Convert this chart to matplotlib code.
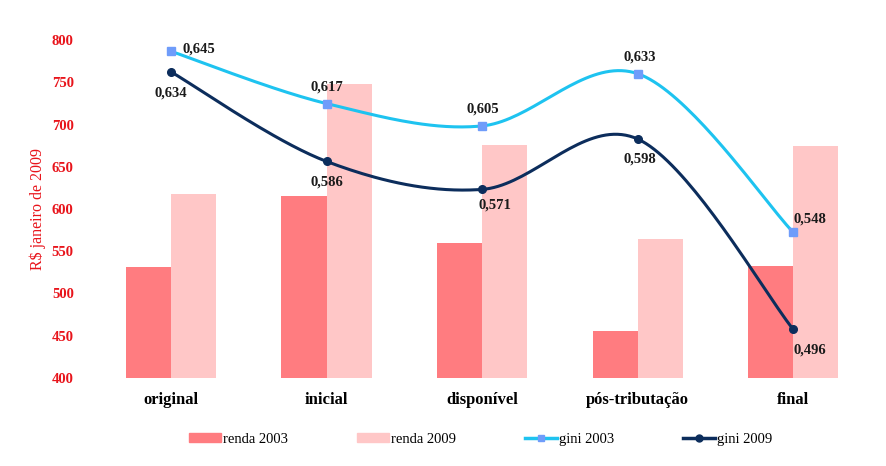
import numpy as np
import matplotlib
matplotlib.use("Agg")
import matplotlib.pyplot as plt
from matplotlib.lines import Line2D
from matplotlib.patches import Patch

categories = ["original", "inicial", "disponível", "pós-tributação", "final"]
renda_2003 = [531, 615, 560, 456, 532]
renda_2009 = [618, 748, 676, 565, 675]
gini_2003 = [0.645, 0.617, 0.605, 0.633, 0.548]
gini_2009 = [0.634, 0.586, 0.571, 0.598, 0.496]

plt.rcParams["font.family"] = ["Liberation Serif", "DejaVu Serif"]

RED = "#E8141B"
C_R03 = "#FF7C80"
C_R09 = "#FFC7C7"
C_G03 = "#1EC3F0"
C_G03M = "#6F9CFA"
C_G09 = "#0C2D5C"


def smooth(xs, ys, n=40):
    # Excel-style smoothed line: cubic Bezier with Catmull-Rom control points
    pts = np.column_stack([xs, ys]).astype(float)
    ext = np.vstack([pts[0], pts, pts[-1]])
    out = []
    for i in range(len(pts) - 1):
        p0, p1, p2, p3 = ext[i], ext[i + 1], ext[i + 2], ext[i + 3]
        c1 = p1 + (p2 - p0) / 6
        c2 = p2 - (p3 - p1) / 6
        t = np.linspace(0, 1, n)[:, None]
        seg = ((1 - t) ** 3) * p1 + 3 * ((1 - t) ** 2) * t * c1 + 3 * (1 - t) * t ** 2 * c2 + t ** 3 * p2
        out.append(seg)
    arr = np.vstack(out)
    return arr[:, 0], arr[:, 1]


fig = plt.figure(figsize=(8.87, 4.66), dpi=100)
ax = fig.add_axes([0.105, 0.189, 0.877, 0.725])

x = np.arange(len(categories))
w = 0.29
ax.bar(x - w / 2, renda_2003, w, color=C_R03, zorder=1)
ax.bar(x + w / 2, renda_2009, w, color=C_R09, zorder=1)
ax.set_ylim(400, 800)
ax.set_xlim(-0.5, len(categories) - 0.5)
ax.set_yticks(range(400, 801, 50))
ax.tick_params(axis="y", length=0, colors=RED, labelsize=10.5, pad=14)
for lab in ax.get_yticklabels():
    lab.set_fontweight("bold")
ax.set_xticks(x)
ax.set_xticklabels(categories, fontsize=12, fontweight="bold")
ax.tick_params(axis="x", length=0, pad=10)
ax.set_ylabel("R$ janeiro de 2009", color=RED, fontsize=11.5, labelpad=4)
for s in ax.spines.values():
    s.set_visible(False)

ax2 = ax.twinx()
ax2.set_ylim(0.47, 0.651)
ax2.set_yticks([])
for s in ax2.spines.values():
    s.set_visible(False)

sx, sy = smooth(x, gini_2003)
ax2.plot(sx, sy, color=C_G03, lw=2.2, zorder=3)
ax2.plot(x, gini_2003, ls="none", marker="s", ms=5.5, color=C_G03M, zorder=4)
sx, sy = smooth(x, gini_2009)
ax2.plot(sx, sy, color=C_G09, lw=2.2, zorder=3)
ax2.plot(x, gini_2009, ls="none", marker="o", ms=5.5, color=C_G09, zorder=4)

# data labels (offsets in points)
off_03 = [(20, 1.5), (0, 12), (0.5, 12), (1.5, 12), (12, 9.5)]
off_09 = [(0, -15), (0, -15), (9.5, -11), (1.5, -14.5), (12, -15)]
for i in range(len(categories)):
    ax2.annotate(f"{gini_2003[i]:.3f}".replace(".", ","), (x[i], gini_2003[i]),
                 xytext=off_03[i], textcoords="offset points", ha="center", va="center",
                 fontsize=10.5, fontweight="bold", color="#1a1a1a")
    ax2.annotate(f"{gini_2009[i]:.3f}".replace(".", ","), (x[i], gini_2009[i]),
                 xytext=off_09[i], textcoords="offset points", ha="center", va="center",
                 fontsize=10.5, fontweight="bold", color="#1a1a1a")

handles = [
    Patch(color=C_R03, label="renda 2003"),
    Patch(color=C_R09, label="renda 2009"),
    Line2D([], [], color=C_G03, lw=2.5, marker="s", ms=5, mfc=C_G03M, mec=C_G03M, label="gini 2003"),
    Line2D([], [], color=C_G09, lw=2.5, marker="o", ms=5, label="gini 2009"),
]
fig.legend(handles=handles, loc="center", bbox_to_anchor=(0.542, 0.057), ncol=4,
           frameon=False, fontsize=10.5, handlelength=2.2, handleheight=0.6,
           handletextpad=0.15, columnspacing=4.7)

fig.savefig("out.png", dpi=100)
